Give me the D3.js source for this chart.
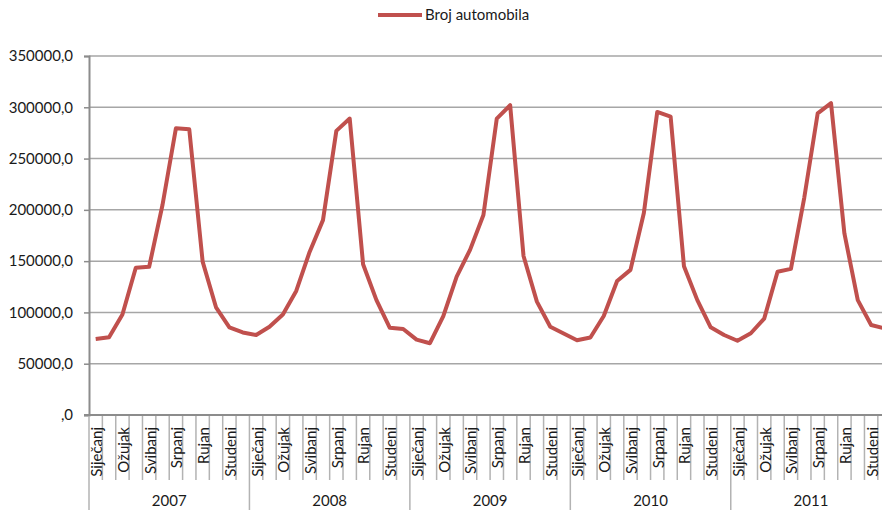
<!DOCTYPE html>
<html>
<head>
<meta charset="utf-8">
<script src="https://cdn.jsdelivr.net/npm/d3@7"></script>
<style>
  html, body { margin: 0; padding: 0; background: #fff; }
  svg { display: block; font-family: Lato, "Open Sans", sans-serif; }
</style>
</head>
<body>
<svg id="chart" width="882" height="510"></svg>
<script>
// Monthly number of cars, 2007–2011
const years = ["2007", "2008", "2009", "2010", "2011"];
const months = ["Siječanj", "Veljača", "Ožujak", "Travanj", "Svibanj", "Lipanj",
                "Srpanj", "Kolovoz", "Rujan", "Listopad", "Studeni", "Prosinac"];
const values2007 = [74000, 75700, 98000, 143600, 144500, 205000, 279500, 278500, 149500, 105000, 85500, 80500];
const values2008 = [78000, 86000, 98000, 121000, 159000, 190000, 277000, 289000, 147000, 112000, 85000, 83800];
const values2009 = [73500, 70000, 96500, 135000, 161000, 195000, 289000, 302000, 155000, 110500, 86000, 79500];
const values2010 = [72800, 75500, 96500, 130600, 141500, 197000, 295500, 291000, 145000, 112000, 85500, 78000];
const values2011 = [72400, 79700, 94000, 139700, 142500, 212000, 294000, 304000, 177000, 112000, 87700, 84500];
const yTicks = [0, 50000, 100000, 150000, 200000, 250000, 300000, 350000];
const seriesName = "Broj automobila";

const series = [values2007, values2008, values2009, values2010, values2011];
const points = [];
series.forEach((vals, yi) => vals.forEach((v, mi) => points.push({ year: years[yi], month: mi, value: v, i: yi * 12 + mi })));

const svg = d3.select("#chart");
const plotLeft = 89, plotTop = 56, plotBottom = 415;
const step = 13.37;
const n = points.length;

const x = d3.scaleBand().domain(d3.range(n)).range([plotLeft, plotLeft + n * step]).paddingInner(0).paddingOuter(0);
const y = d3.scaleLinear().domain([0, 350000]).range([plotBottom, plotTop]);

const fmt = v => v === 0 ? ",0" : (v.toFixed(1).replace(".", ","));

// horizontal gridlines
svg.append("g").selectAll("line").data(yTicks.filter(d => d > 0)).join("line")
  .attr("x1", plotLeft).attr("x2", 882)
  .attr("y1", d => y(d)).attr("y2", d => y(d))
  .attr("stroke", "#a6a6a6").attr("stroke-width", 1.5);

// y axis
const yAxis = d3.axisLeft(y).tickValues(yTicks).tickFormat(fmt).tickSize(5).tickPadding(11);
const gy = svg.append("g").attr("transform", `translate(${plotLeft},0)`).call(yAxis);
gy.select(".domain").attr("stroke", "#8c8c8c").attr("stroke-width", 2);
gy.selectAll(".tick line").attr("stroke", "#8c8c8c").attr("stroke-width", 1.5);
gy.selectAll(".tick text").attr("fill", "#1a1a1a").attr("font-size", "15px").attr("font-family", "Lato, sans-serif");

// category boundary ticks below the axis
const boundaries = d3.range(n + 1);
svg.append("g").selectAll("line").data(boundaries).join("line")
  .attr("x1", d => plotLeft + d * x.bandwidth()).attr("x2", d => plotLeft + d * x.bandwidth())
  .attr("y1", plotBottom)
  .attr("y2", d => d % 12 === 0 ? 510 : 480)
  .attr("stroke", "#b3b3b3").attr("stroke-width", 1.5);

// x axis line
svg.append("line")
  .attr("x1", plotLeft - 5).attr("x2", 882).attr("y1", plotBottom).attr("y2", plotBottom)
  .attr("stroke", "#8c8c8c").attr("stroke-width", 2);

// month labels (every other month)
svg.append("g").selectAll("text").data(points.filter(d => d.month % 2 === 0)).join("text")
  .attr("transform", d => `translate(${x(d.i) + x.bandwidth() / 2 + 1},427) rotate(-90)`)
  .attr("dy", "0.36em")
  .attr("text-anchor", "end")
  .attr("font-size", "15px")
  .attr("fill", "#1a1a1a")
  .text(d => months[d.month]);

// year labels
svg.append("g").selectAll("text").data(years).join("text")
  .attr("x", (d, i) => x(i * 12) + 6 * x.bandwidth())
  .attr("y", 506)
  .attr("text-anchor", "middle")
  .attr("font-size", "15px")
  .attr("fill", "#1a1a1a")
  .text(d => d);

// data line
const line = d3.line().x(d => x(d.i) + x.bandwidth() / 2).y(d => y(d.value));
svg.append("path").datum(points)
  .attr("d", line)
  .attr("fill", "none")
  .attr("stroke", "#c0504d")
  .attr("stroke-width", 4)
  .attr("stroke-linejoin", "round");

// legend
const lg = svg.append("g").attr("transform", "translate(378,15)");
lg.append("line").attr("x1", 0).attr("x2", 44).attr("y1", 0).attr("y2", 0)
  .attr("stroke", "#c0504d").attr("stroke-width", 4);
lg.append("text").attr("x", 47).attr("y", 0).attr("dy", "0.36em")
  .attr("font-size", "15px").attr("fill", "#1a1a1a").text(seriesName);
</script>
</body>
</html>
